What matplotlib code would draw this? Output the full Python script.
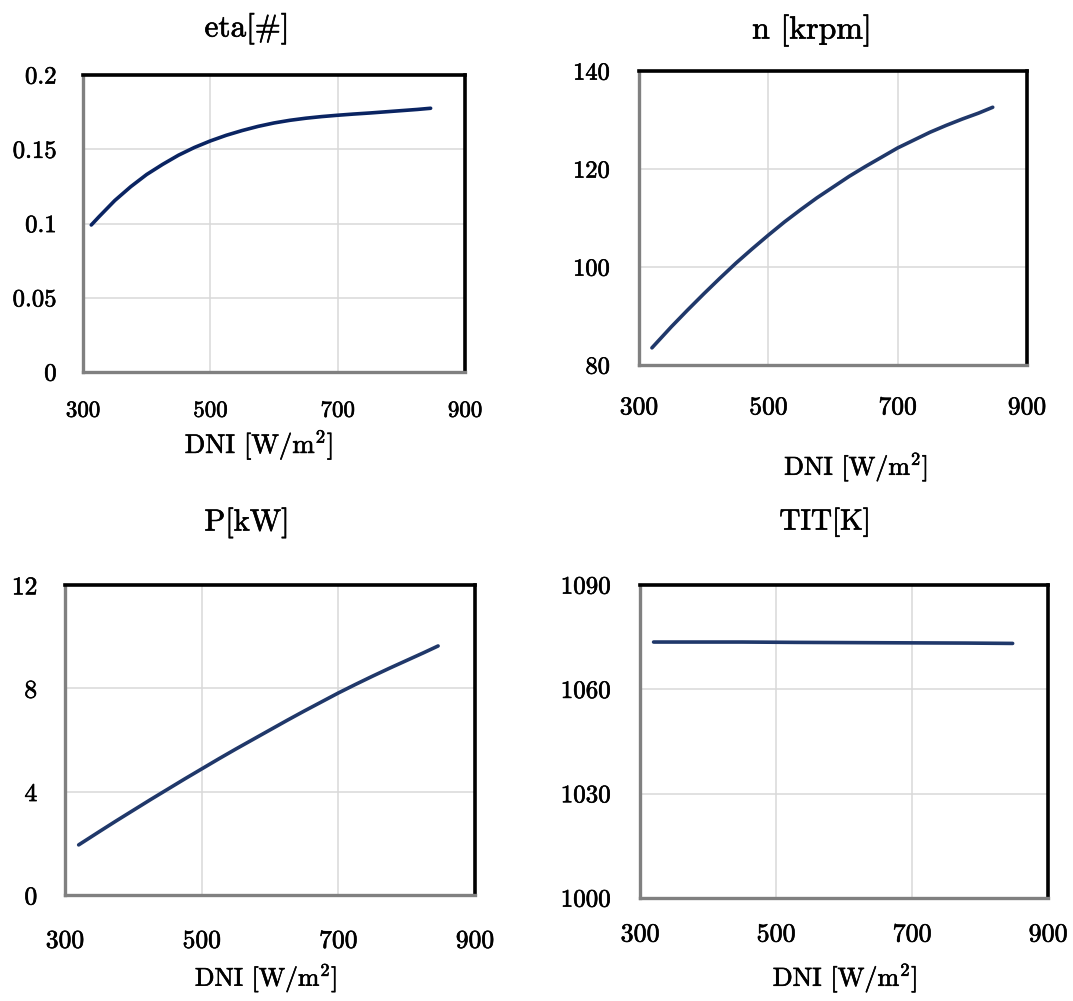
import matplotlib
matplotlib.use("Agg")
import matplotlib.pyplot as plt
import matplotlib.patheffects as pe

plt.rcParams['font.family'] = ['cmr10', 'DejaVu Serif']
plt.rcParams['mathtext.fontset'] = 'cm'
plt.rcParams['axes.formatter.use_mathtext'] = True

# ---------------- data ----------------
dni_eta = [313, 325, 350, 375, 400, 425, 450, 475, 500, 525, 550, 575, 600,
           625, 650, 675, 700, 725, 750, 775, 800, 825, 846]
eta = [0.0990, 0.1045, 0.1155, 0.1248, 0.1330, 0.1398, 0.1460, 0.1512, 0.1556,
       0.1594, 0.1626, 0.1654, 0.1677, 0.1695, 0.1709, 0.1720, 0.1729, 0.1737,
       0.1744, 0.1752, 0.1760, 0.1768, 0.1776]

dni_n = [320, 350, 375, 400, 425, 450, 475, 500, 525, 550, 575, 600, 625, 650,
         675, 700, 725, 750, 775, 800, 825, 847]
n_krpm = [83.5, 87.8, 91.2, 94.5, 97.7, 100.8, 103.7, 106.5, 109.2, 111.7, 114.1,
          116.3, 118.5, 120.5, 122.4, 124.3, 125.9, 127.5, 128.9, 130.2, 131.4, 132.6]

dni_p = [320, 350, 375, 400, 425, 450, 475, 500, 525, 550, 575, 600, 625, 650,
         675, 700, 725, 750, 775, 800, 825, 846]
p_kw = [1.94, 2.45, 2.87, 3.28, 3.69, 4.09, 4.49, 4.88, 5.27, 5.65, 6.02, 6.39,
        6.76, 7.12, 7.47, 7.82, 8.15, 8.47, 8.78, 9.08, 9.38, 9.64]

dni_tit = [320, 450, 530, 650, 780, 848]
tit_k = [1073.6, 1073.6, 1073.5, 1073.4, 1073.3, 1073.2]

x_ticks = [300, 500, 700, 900]
x_tick_labels = ['300', '500', '700', '900']

eta_ticks = [0, 0.05, 0.1, 0.15, 0.2]
eta_tick_labels = ['0', '0.05', '0.1', '0.15', '0.2']
n_ticks = [80, 100, 120, 140]
n_tick_labels = ['80', '100', '120', '140']
p_ticks = [0, 4, 8, 12]
p_tick_labels = ['0', '4', '8', '12']
tit_ticks = [1000, 1030, 1060, 1090]
tit_tick_labels = ['1000', '1030', '1060', '1090']

titles = ['eta[#]', 'n [krpm]', 'P[kW]', 'TIT[K]']
xlabel = r'DNI [W/m$^2$]'

# ---------------- layout ----------------
W, H = 1073, 1001
fig = plt.figure(figsize=(W / 100, H / 100), dpi=100)
bold_fx = [pe.withStroke(linewidth=0.45, foreground='black')]

def px_axes(l, t, r, b):
    return fig.add_axes([l / W, 1 - b / H, (r - l) / W, (b - t) / H])

panels = [
    dict(box=(83, 75, 465, 372), x=dni_eta, y=eta, yt=eta_ticks, ytl=eta_tick_labels,
         ylim=(0, 0.2), color='#0a2462', title=(247, 29, 22.5), xlab=(259, 445, 19.3),
         xfs=16.5, yfs=17.8, xpad=21, ypad=19),
    dict(box=(639, 71, 1027, 365), x=dni_n, y=n_krpm, yt=n_ticks, ytl=n_tick_labels,
         ylim=(80, 140), color='#20386a', title=(812, 31, 23), xlab=(856, 467, 18.7),
         xfs=18.4, yfs=17.6, xpad=22, ypad=21),
    dict(box=(65, 585, 475, 895), x=dni_p, y=p_kw, yt=p_ticks, ytl=p_tick_labels,
         ylim=(0, 12), color='#20386a', title=(247, 523, 22), xlab=(266, 978, 18.5),
         xfs=18.4, yfs=18.4, xpad=24.5, ypad=20),
    dict(box=(640, 585, 1048, 898), x=dni_tit, y=tit_k, yt=tit_ticks, ytl=tit_tick_labels,
         ylim=(1000, 1090), color='#20386a', title=(825, 522, 21), xlab=(845, 978, 18.8),
         xfs=18.7, yfs=18, xpad=17.8, ypad=21),
]

for p, ttl in zip(panels, titles):
    ax = px_axes(*p['box'])
    ax.plot(p['x'], p['y'], color=p['color'], lw=2.6, solid_capstyle='round',
            solid_joinstyle='round', zorder=3)
    ax.set_xlim(300, 900)
    ax.set_ylim(*p['ylim'])
    ax.set_xticks(x_ticks)
    ax.set_xticklabels(x_tick_labels)
    ax.set_yticks(p['yt'])
    ax.set_yticklabels(p['ytl'])
    ax.tick_params(axis='x', length=0, pad=p['xpad'], labelsize=p['xfs'])
    ax.tick_params(axis='y', length=0, pad=p['ypad'], labelsize=p['yfs'])
    for lbl in ax.get_xticklabels() + ax.get_yticklabels():
        lbl.set_path_effects(bold_fx)
    ax.grid(True, color='#d9d9d9', lw=1.1, zorder=0)
    ax.set_axisbelow(True)
    for s in ('top', 'right'):
        ax.spines[s].set_color('black')
        ax.spines[s].set_linewidth(2.6)
    for s in ('left', 'bottom'):
        ax.spines[s].set_color('#808080')
        ax.spines[s].set_linewidth(2.4)
    tx, ty, tfs = p['title']
    fig.text(tx / W, 1 - ty / H, ttl, ha='center', va='center', fontsize=tfs,
             path_effects=bold_fx)
    lx, ly, lfs = p['xlab']
    fig.text(lx / W, 1 - ly / H, xlabel, ha='center', va='center', fontsize=lfs,
             path_effects=bold_fx)

fig.savefig('out.png', dpi=100, facecolor='white')
